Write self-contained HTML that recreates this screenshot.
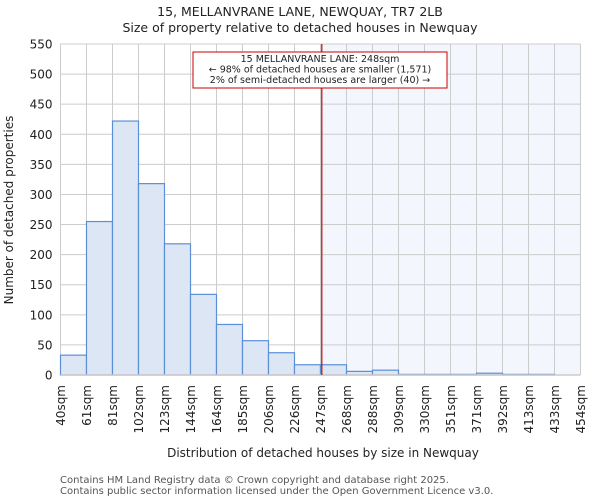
<!DOCTYPE html>
<html><head><meta charset="utf-8"><style>
body{margin:0;background:#fff}
svg{display:block;font-family:"DejaVu Sans","Liberation Sans",sans-serif}
</style></head><body>
<svg id="chart" width="600" height="500" viewBox="0 0 600 500">
<text x="300" y="16" text-anchor="middle" font-size="12.5" fill="#222">15, MELLANVRANE LANE, NEWQUAY, TR7 2LB</text>
<text x="300" y="32" text-anchor="middle" font-size="12.5" fill="#222">Size of property relative to detached houses in Newquay</text>
<g id="plot"></g>
<text x="323" y="457" text-anchor="middle" font-size="12" fill="#222">Distribution of detached houses by size in Newquay</text>
<text transform="translate(13,210) rotate(-90)" text-anchor="middle" font-size="12" fill="#222">Number of detached properties</text>
<text x="60" y="483" font-size="10" fill="#555">Contains HM Land Registry data © Crown copyright and database right 2025.</text>
<text x="60" y="494" font-size="10" fill="#555">Contains public sector information licensed under the Open Government Licence v3.0.</text>
</svg>
<script>
const binLabels=["40sqm","61sqm","81sqm","102sqm","123sqm","144sqm","164sqm","185sqm","206sqm","226sqm","247sqm","268sqm","288sqm","309sqm","330sqm","351sqm","371sqm","392sqm","413sqm","433sqm","454sqm"];
const counts=[33,255,422,318,218,134,84,57,37,17,17,6,8,1,1,1,3,1,1,0];
const yTicks=[0,50,100,150,200,250,300,350,400,450,500,550];
const propertyBin=10.05;
const NS="http://www.w3.org/2000/svg";
const L=60.5,R=580.5,T=44,B=375,yMax=550;
const bw=(R-L)/counts.length;
const x=i=>L+i*bw;
const y=v=>B-v/yMax*(B-T);
const g=document.getElementById('plot');
function mk(t,a){const e=document.createElementNS(NS,t);for(const k in a)e.setAttribute(k,a[k]);g.appendChild(e);return e;}
const px=x(propertyBin);
let e=mk('rect',{x:px,y:T,width:R-px,height:B-T,fill:'#f3f6fd'});


for(let i=0;i<=counts.length;i++){e=mk('line',{x1:x(i),x2:x(i),y1:T,y2:B,stroke:'#ccc','stroke-width':1});

}
yTicks.forEach(v=>{e=mk('line',{x1:L,x2:R,y1:y(v),y2:y(v),stroke:'#ccc','stroke-width':1});


e=mk('text',{x:L-8,y:y(v)+4.5,'text-anchor':'end','font-size':'12',fill:'#222'});e.textContent=v;

});
counts.forEach((c,i)=>{if(c<=0)return;e=mk('rect',{x:x(i),y:y(c),width:bw,height:B-y(c),fill:'#dce6f4',stroke:'#5b8fd6','stroke-width':1.2});

});
binLabels.forEach((l,i)=>{e=mk('text',{transform:`translate(${x(i)+4.5},385) rotate(-90)`,'text-anchor':'end','font-size':'12',fill:'#222'});e.textContent=l;

});
e=mk('line',{x1:L,x2:R,y1:B,y2:B,stroke:'#ccc','stroke-width':1.5});


e=mk('line',{x1:px,x2:px,y1:T,y2:B,stroke:'#c00','stroke-width':1.2});


e=mk('rect',{x:193,y:52,width:254,height:36,fill:'#fff',stroke:'#c00','stroke-width':1});


["15 MELLANVRANE LANE: 248sqm","← 98% of detached houses are smaller (1,571)","2% of semi-detached houses are larger (40) →"].forEach((t,k)=>{
e=mk('text',{x:320,y:62+k*10.5,'text-anchor':'middle','font-size':'9.5',fill:'#222'});e.textContent=t;

});
</script>
</body></html>
